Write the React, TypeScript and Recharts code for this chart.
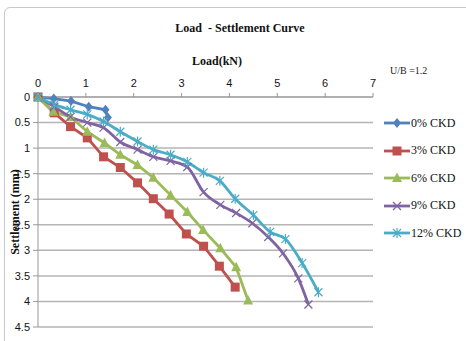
import React from 'react';
import { LineChart, Line, XAxis, YAxis, CartesianGrid } from 'recharts';

const xTicks = [0, 1, 2, 3, 4, 5, 6, 7];
const yTicks = [0, 0.5, 1, 1.5, 2, 2.5, 3, 3.5, 4, 4.5];
const seriesNames = ['0% CKD', '3% CKD', '6% CKD', '9% CKD', '12% CKD'];
const seriesColors = ['#4F81BD', '#C0504D', '#9BBB59', '#8064A2', '#4BACC6'];

const load0 = [0, 0.33, 0.69, 1.06, 1.41, 1.46];
const settle0 = [0, 0.03, 0.08, 0.19, 0.25, 0.4];

const load3 = [0, 0.34, 0.68, 1.03, 1.37, 1.72, 2.08, 2.41, 2.74, 3.1, 3.46, 3.79, 4.12];
const settle3 = [0, 0.31, 0.58, 0.8, 1.17, 1.38, 1.68, 1.99, 2.29, 2.68, 2.92, 3.31, 3.72];

const load6 = [0, 0.32, 0.68, 1.03, 1.39, 1.72, 2.08, 2.41, 2.77, 3.12, 3.45, 3.81, 4.14, 4.39];
const settle6 = [0, 0.29, 0.39, 0.68, 0.9, 1.13, 1.33, 1.58, 1.92, 2.25, 2.6, 2.96, 3.33, 3.98];

const load9 = [0, 0.34, 0.68, 1.03, 1.37, 1.72, 2.08, 2.41, 2.77, 3.12, 3.46, 3.81, 4.14, 4.48, 4.81, 5.12, 5.44, 5.65];
const settle9 = [0, 0.19, 0.39, 0.5, 0.6, 0.88, 1.03, 1.17, 1.25, 1.37, 1.86, 2.11, 2.27, 2.47, 2.74, 3.06, 3.55, 4.06];

const load12 = [0, 0.34, 0.68, 1.03, 1.37, 1.72, 2.08, 2.41, 2.77, 3.12, 3.46, 3.8, 4.12, 4.5, 4.85, 5.17, 5.52, 5.86];
const settle12 = [0, 0.15, 0.25, 0.34, 0.48, 0.68, 0.87, 1.03, 1.13, 1.27, 1.48, 1.64, 1.99, 2.31, 2.64, 2.78, 3.25, 3.82];

const toData = (xs: number[], ys: number[]) => xs.map((x, i) => ({ x, y: ys[i] }));

const seriesData = [
  toData(load0, settle0),
  toData(load3, settle3),
  toData(load6, settle6),
  toData(load9, settle9),
  toData(load12, settle12),
];

const markerShape = (kind: number, cx: number, cy: number, color: string, key?: any) => {
  switch (kind) {
    case 0:
      return <path key={key} d={`M${cx},${cy - 5}L${cx + 4},${cy}L${cx},${cy + 5}L${cx - 4},${cy}Z`} fill={color} />;
    case 1:
      return <rect key={key} x={cx - 4.5} y={cy - 4.5} width={9} height={9} fill={color} />;
    case 2:
      return <path key={key} d={`M${cx},${cy - 5.5}L${cx + 5},${cy + 4}L${cx - 5},${cy + 4}Z`} fill={color} />;
    case 3:
      return (
        <path key={key} d={`M${cx - 4},${cy - 4}L${cx + 4},${cy + 4}M${cx - 4},${cy + 4}L${cx + 4},${cy - 4}`} stroke={color} strokeWidth={1.2} fill="none" />
      );
    default:
      return (
        <path key={key} d={`M${cx - 4},${cy - 4}L${cx + 4},${cy + 4}M${cx - 4},${cy + 4}L${cx + 4},${cy - 4}M${cx},${cy - 5}L${cx},${cy + 5}`} stroke={color} strokeWidth={1.2} fill="none" />
      );
  }
};

const makeDot = (kind: number, color: string) => (props: any) => {
  const { cx, cy, index } = props;
  if (cx == null || cy == null) return <g key={`d${kind}-${index}`} />;
  return markerShape(kind, cx, cy, color, `d${kind}-${index}`);
};

const serif = '"Liberation Serif", "Times New Roman", serif';
const sans = '"Liberation Sans", Arial, sans-serif';

export default function App() {
  return (
    <div style={{ position: 'absolute', left: 0, top: 0, width: 466, height: 341, overflow: 'hidden', background: '#fff' }}>
      <div style={{ position: 'absolute', left: 4, top: 7, width: 480, height: 360, border: '1px solid #c8c8c8', borderRadius: 6 }} />
      <LineChart width={466} height={341} margin={{ top: 75, right: 93, bottom: 14, left: 8 }} style={{ position: 'absolute', left: 0, top: 0 }}>
        <CartesianGrid vertical={false} stroke="#b4b4b4" strokeWidth={1.5} />
        <XAxis
          type="number"
          dataKey="x"
          orientation="top"
          domain={[0, 7]}
          ticks={xTicks}
          height={22}
          tickSize={4}
          tickMargin={6}
          stroke="#999"
          tick={{ fill: '#111', fontSize: 11, fontFamily: sans }}
          allowDuplicatedCategory={false}
        />
        <YAxis
          type="number"
          dataKey="y"
          reversed
          domain={[0, 4.5]}
          ticks={yTicks}
          width={30}
          tickSize={5}
          tickMargin={3}
          stroke="#999"
          tick={{ fill: '#111', fontSize: 11, fontFamily: sans }}
          label={{ value: 'Settlement (mm)', angle: -90, position: 'insideLeft', offset: 7, style: { fontFamily: serif, fontWeight: 'bold', fontSize: 12, fill: '#111', textAnchor: 'middle' } }}
        />
        {seriesData.map((d, i) => (
          <Line
            key={seriesNames[i]}
            name={seriesNames[i]}
            data={d}
            dataKey="y"
            type={i >= 3 ? 'monotone' : 'linear'}
            stroke={seriesColors[i]}
            strokeWidth={2.8}
            dot={makeDot(i, seriesColors[i])}
            activeDot={false}
            isAnimationActive={false}
          />
        ))}
      </LineChart>
      <div style={{ position: 'absolute', left: 0, width: 480, top: 21, textAlign: 'center', fontFamily: serif, fontWeight: 'bold', fontSize: 12, color: '#111' }}>
        Load&nbsp; - Settlement Curve
      </div>
      <div style={{ position: 'absolute', left: 0, width: 434, top: 54, textAlign: 'center', fontFamily: serif, fontWeight: 'bold', fontSize: 12, color: '#111' }}>
        Load(kN)
      </div>
      <div style={{ position: 'absolute', left: 390, top: 65, fontFamily: serif, fontSize: 10, color: '#222' }}>U/B =1.2</div>
      {seriesNames.map((n, i) => (
        <div key={n} style={{ position: 'absolute', left: 383, top: 115 + i * 27.5, height: 16, display: 'flex', alignItems: 'center' }}>
          <svg width={28} height={16}>
            <line x1={1} y1={8} x2={27} y2={8} stroke={seriesColors[i]} strokeWidth={2.8} />
            {markerShape(i, 14, 8, seriesColors[i])}
          </svg>
          <span style={{ fontFamily: serif, fontSize: 12, color: '#111', marginLeft: 0 }}>{n}</span>
        </div>
      ))}
    </div>
  );
}
